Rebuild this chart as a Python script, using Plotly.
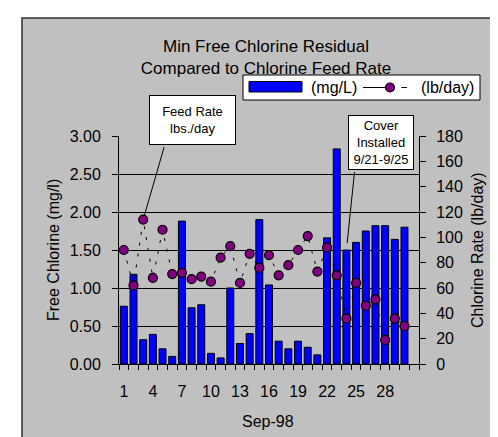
import plotly.graph_objects as go

# ---------------- data ----------------
days = list(range(1, 31))
chlorine_mgL = [0.76, 1.18, 0.32, 0.39, 0.20, 0.10, 1.88, 0.74, 0.78, 0.14,
                0.08, 1.00, 0.27, 0.40, 1.90, 1.04, 0.30, 0.20, 0.30, 0.22,
                0.12, 1.66, 2.83, 1.50, 1.60, 1.75, 1.82, 1.82, 1.64, 1.80]
feed_lbday = [90, 62, 114, 68, 106, 71, 72, 67, 69, 65,
              84, 93, 64, 87, 76, 86, 70, 78, 90, 101,
              73, 92, 70, 36, 64, 46, 51, 19, 36, 30]
x_tickvals = [1, 4, 7, 10, 13, 16, 19, 22, 25, 28]
x_ticktext = [str(v) for v in x_tickvals]
bar_name = "(mg/L)"
line_name = "(lb/day)"

FONT = "Liberation Sans, Arial, sans-serif"
GRAY = "#C0C0C0"

# plot-area pixel geometry (498 x 437 figure)
L, R, T, B = 111, 411, 128, 356
W, H = 498, 437


def px(x):
    return (x - L) / (R - L)


def py(y):
    return (B - y) / (B - T)


fig = go.Figure()
fig.add_trace(go.Bar(
    x=days, y=chlorine_mgL, name=bar_name, width=0.72,
    marker=dict(color="#0000FF", line=dict(color="black", width=1)),
    showlegend=False, yaxis="y"))
fig.add_trace(go.Scatter(
    x=days, y=feed_lbday, name=line_name, mode="lines+markers",
    line=dict(color="black", width=1, dash="3px,8px"),
    marker=dict(size=9, color="#800080", line=dict(color="black", width=1.2)),
    showlegend=False, yaxis="y2"))

shapes = []
# chart frame
shapes.append(dict(type="rect", xref="paper", yref="paper",
                   x0=px(14), x1=px(540), y0=py(480), y1=py(10),
                   fillcolor=GRAY, line=dict(color="#303030", width=1.5),
                   layer="below"))
# manual legend
shapes.append(dict(type="rect", xref="paper", yref="paper",
                   x0=px(235), x1=px(472), y0=py(92), y1=py(67),
                   fillcolor="white", line=dict(color="black", width=1)))
shapes.append(dict(type="rect", xref="paper", yref="paper",
                   x0=px(241), x1=px(294), y0=py(84), y1=py(73.5),
                   fillcolor="#0000FF", line=dict(color="black", width=1)))
shapes.append(dict(type="line", xref="paper", yref="paper",
                   x0=px(355), x1=px(378), y0=py(79.5), y1=py(79.5),
                   line=dict(color="black", width=1)))
shapes.append(dict(type="line", xref="paper", yref="paper",
                   x0=px(393.5), x1=px(399), y0=py(79.5), y1=py(79.5),
                   line=dict(color="black", width=1)))
shapes.append(dict(type="circle", xref="paper", yref="paper",
                   x0=px(377.5), x1=px(386.5), y0=py(84), y1=py(75),
                   fillcolor="#800080", line=dict(color="black", width=1.2)))

ann = []
ann.append(dict(text=bar_name, xref="paper", yref="paper", x=px(301), y=py(79.5),
                xanchor="left", yanchor="middle", showarrow=False,
                font=dict(family=FONT, size=16, color="black")))
ann.append(dict(text=line_name, xref="paper", yref="paper", x=px(411), y=py(79.5),
                xanchor="left", yanchor="middle", showarrow=False,
                font=dict(family=FONT, size=16, color="black")))
# axis titles
ann.append(dict(text="Free Chlorine (mg/l)", xref="paper", yref="paper",
                x=px(45), y=0.5, textangle=-90, showarrow=False,
                xanchor="center", yanchor="middle",
                font=dict(family=FONT, size=16, color="black")))
ann.append(dict(text="Chlorine Rate (lb/day)", xref="paper", yref="paper",
                x=px(469), y=0.5, textangle=-90, showarrow=False,
                xanchor="center", yanchor="middle",
                font=dict(family=FONT, size=16, color="black")))
ann.append(dict(text="Sep-98", xref="paper", yref="paper",
                x=px(260), y=py(413), showarrow=False,
                xanchor="center", yanchor="middle",
                font=dict(family=FONT, size=16, color="black")))
# callout boxes
ann.append(dict(text="Feed Rate<br>lbs./day", xref="paper", yref="paper",
                x=px(184.5), y=py(112), showarrow=False,
                xanchor="center", yanchor="middle", width=85, height=48,
                bgcolor="white", bordercolor="black", borderwidth=1, borderpad=0,
                font=dict(family=FONT, size=13, color="black")))
ann.append(dict(text="Cover<br>Installed<br>9/21-9/25", xref="paper", yref="paper",
                x=px(373), y=py(134.5), showarrow=False,
                xanchor="center", yanchor="middle", width=64, height=53,
                bgcolor="white", bordercolor="black", borderwidth=1, borderpad=0,
                font=dict(family=FONT, size=13, color="black")))
# callout pointer lines
ann.append(dict(text=" ", x=days[2], y=feed_lbday[2], xref="x", yref="y2",
                showarrow=True, arrowhead=0, arrowwidth=1, arrowcolor="black",
                ax=21.5, ay=-74.5, standoff=4,
                font=dict(size=1)))
ann.append(dict(text=" ", x=days[23], y=chlorine_mgL[23], xref="x", yref="y",
                showarrow=True, arrowhead=0, arrowwidth=1, arrowcolor="black",
                ax=8.3, ay=-80, standoff=7,
                font=dict(size=1)))

fig.update_layout(
    width=W, height=H,
    margin=dict(l=L, r=W - R, t=T, b=H - B, pad=0),
    paper_bgcolor="white", plot_bgcolor=GRAY,
    font=dict(family=FONT, size=16, color="black"),
    title=dict(text="Min Free Chlorine Residual<br>Compared to Chlorine Feed Rate",
               x=258 / W, xanchor="center", y=1 - 44 / H, yanchor="middle",
               yref="container", font=dict(family=FONT, size=17, color="black")),
    showlegend=False,
    xaxis=dict(range=[0.5, 31.5], tickmode="array", tickvals=x_tickvals,
               ticktext=x_ticktext, ticks="outside", ticklen=6,
               tickcolor="rgba(0,0,0,0)", showgrid=False, zeroline=False,
               showline=True, linecolor="black", linewidth=1,
               ticklabelstandoff=7,
               minor=dict(tickmode="array",
                          tickvals=[i + 0.5 for i in range(0, 32)],
                          ticks="outside", ticklen=5, tickcolor="black",
                          tickwidth=1, showgrid=False),
               tickfont=dict(family=FONT, size=16, color="black")),
    yaxis=dict(range=[0, 3], dtick=0.5, tickformat=".2f", ticks="outside",
               ticklen=6, tickcolor="black", showgrid=True, gridcolor="black",
               gridwidth=1, zeroline=False, showline=True, linecolor="black",
               linewidth=1, ticklabelstandoff=8,
               tickfont=dict(family=FONT, size=16, color="black")),
    yaxis2=dict(range=[0, 180], dtick=20, overlaying="y", side="right",
                ticks="outside", ticklen=6, tickcolor="black", showgrid=False,
                zeroline=False, showline=True, linecolor="black", linewidth=1,
                ticklabelstandoff=7,
                tickfont=dict(family=FONT, size=16, color="black")),
    shapes=shapes, annotations=ann,
    bargap=0.28,
)

fig.write_html("out.html")
